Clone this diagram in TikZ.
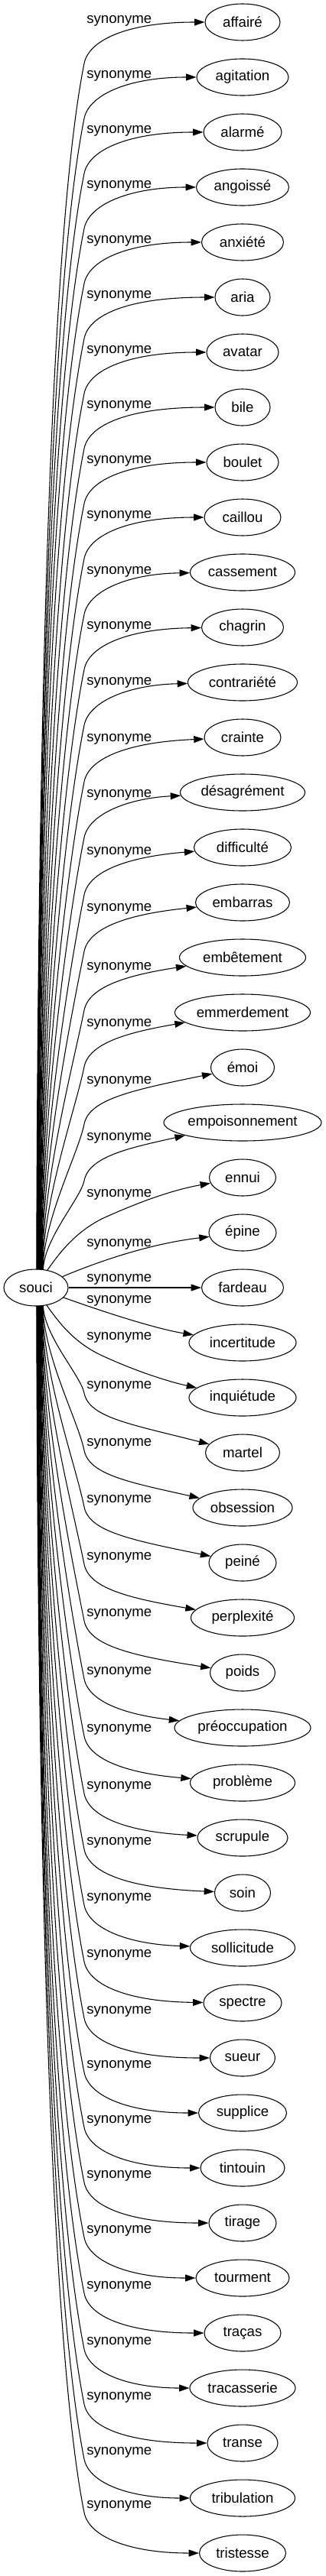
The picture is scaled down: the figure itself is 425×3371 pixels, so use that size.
\documentclass[tikz,border=0pt]{standalone}
\usepackage{fontspec}
\setmainfont{Liberation Sans}
\usetikzlibrary{shapes.geometric,arrows.meta}
\begin{document}
\begin{tikzpicture}[x=0.75pt,y=-0.75pt,
  syn/.style={draw, ellipse, line width=0.8pt, minimum height=36pt, inner sep=0pt, font=\fontsize{14pt}{16pt}\selectfont},
  lbl/.style={anchor=west, inner sep=0pt, font=\fontsize{14pt}{16pt}\selectfont},
  edge/.style={draw, line width=0.8pt, -{Triangle[length=10pt,width=6.7pt]}}]
\useasboundingbox (0,0) rectangle (425,3371);
\node[syn, minimum width=63pt] (souci) at (47,1685) {souci};
\foreach \w/\txt [count=\i from 0] in {98/affairé,120/agitation,102/alarmé,121/angoissé,107/anxiété,72/aria,94/avatar,72/bile,94/boulet,100/caillou,137/cassement,107/chagrin,143/contrariété,100/crainte,163/désagrément,127/difficulté,123/embarras,165/embêtement,177/emmerdement,83/émoi,206/empoisonnement,87/ennui,88/épine,107/fardeau,140/incertitude,140/inquiétude,97/martel,130/obsession,88/peiné,135/perplexité,85/poids,178/préoccupation,137/problème,118/scrupule,73/soin,137/sollicitude,102/spectre,85/sueur,115/supplice,110/tintouin,88/tirage,122/tourment,100/traças,138/tracasserie,92/transe,137/tribulation,113/tristesse}
  \node[syn, minimum width=\w*0.75pt] (t\i) at (317,{29+72*\i}) {\txt};
\foreach \L [count=\i from 0] in {27,99,171,243,315,387,459,531,603,675,748,820,893,967,1040,1115,1189,1266,1340,1415,1489,1563,1628,1674,1702,1750,1814,1889,1963,2038,2112,2188,2263,2338,2411,2484,2558,2632,2703,2775,2847,2919,2992,3065,3137,3209,3279}
  \node[lbl] (l\i) at (113,\L) {synonyme};
% upper edges
\foreach \i/\L in {0/27,1/99,2/171,3/243,4/315,5/387,6/459,7/531,8/603,9/675,10/748,11/820,12/893,13/967,14/1040,15/1115,16/1189,17/1266,18/1340,19/1415,20/1489}{
  \pgfmathsetmacro\eTy{29+72*\i}
  \pgfmathsetmacro\ePh{88-\i}
  \pgfmathsetmacro\eR{1008/sqrt((24*cos(\ePh))^2+(42*sin(\ePh))^2)}
  \pgfmathsetmacro\eSx{47+\eR*cos(\ePh)}
  \pgfmathsetmacro\eSy{1685-\eR*sin(\ePh)}
  \pgfmathsetmacro\eBy{\L+56}
  \pgfmathsetmacro\eD{\eSy-\eBy}
  \pgfmathsetmacro\eK{min(0.2*\eD,250)}
  \pgfmathsetmacro\eAx{\eSx+1}
  \pgfmathsetmacro\eAy{\eSy-0.35*\eD}
  \pgfmathsetmacro\eBx{110-0.2*\eK}
  \pgfmathsetmacro\eBBy{\eBy+\eK}
  \pgfmathsetmacro\eQa{\eBy-32}
  \pgfmathsetmacro\eDl{max(0,(\eBy-\eTy-54)*1.5)}
  \pgfmathsetmacro\eQb{\eTy+\eDl}
  \draw[edge] (\eSx,\eSy) .. controls (\eAx,\eAy) and (\eBx,\eBBy) .. (110,\eBy) .. controls (116.4,\eQa) and (170,\eQb) .. (t\i);
}
% lower edges
\foreach \i/\L in {26/1814,27/1889,28/1963,29/2038,30/2112,31/2188,32/2263,33/2338,34/2411,35/2484,36/2558,37/2632,38/2703,39/2775,40/2847,41/2919,42/2992,43/3065,44/3137,45/3209,46/3279}{
  \pgfmathsetmacro\eTy{29+72*\i}
  \pgfmathsetmacro\ePh{88-(46-\i)}
  \pgfmathsetmacro\eR{1008/sqrt((24*cos(\ePh))^2+(42*sin(\ePh))^2)}
  \pgfmathsetmacro\eSx{47+\eR*cos(\ePh)}
  \pgfmathsetmacro\eSy{1685+\eR*sin(\ePh)}
  \pgfmathsetmacro\eBy{\L+9}
  \pgfmathsetmacro\eD{\eBy-\eSy}
  \pgfmathsetmacro\eK{min(0.2*\eD,250)}
  \pgfmathsetmacro\eAx{\eSx+1}
  \pgfmathsetmacro\eAy{\eSy+0.35*\eD}
  \pgfmathsetmacro\eBx{110-0.2*\eK}
  \pgfmathsetmacro\eBBy{\eBy-\eK}
  \pgfmathsetmacro\eQa{\eBy+32}
  \pgfmathsetmacro\eDl{max(0,(\eTy-\eBy-53)*1.5)}
  \pgfmathsetmacro\eQb{\eTy-\eDl}
  \draw[edge] (\eSx,\eSy) .. controls (\eAx,\eAy) and (\eBx,\eBBy) .. (110,\eBy) .. controls (116.4,\eQa) and (170,\eQb) .. (t\i);
}
% central edges
\draw[edge] (62,1662) .. controls (80,1636) and (100,1612) .. (133,1595) .. controls (170,1578) and (220,1558) .. (t21);
\draw[edge] (souci) .. controls (150,1642) and (210,1626) .. (t22);
\draw[edge] (souci) -- (t23);
\draw[edge] (souci) .. controls (150,1722) and (210,1740) .. (t24);
\draw[edge] (61,1708) .. controls (80,1735) and (100,1760) .. (140,1777) .. controls (180,1795) and (220,1808) .. (t25);
\end{tikzpicture}
\end{document}
